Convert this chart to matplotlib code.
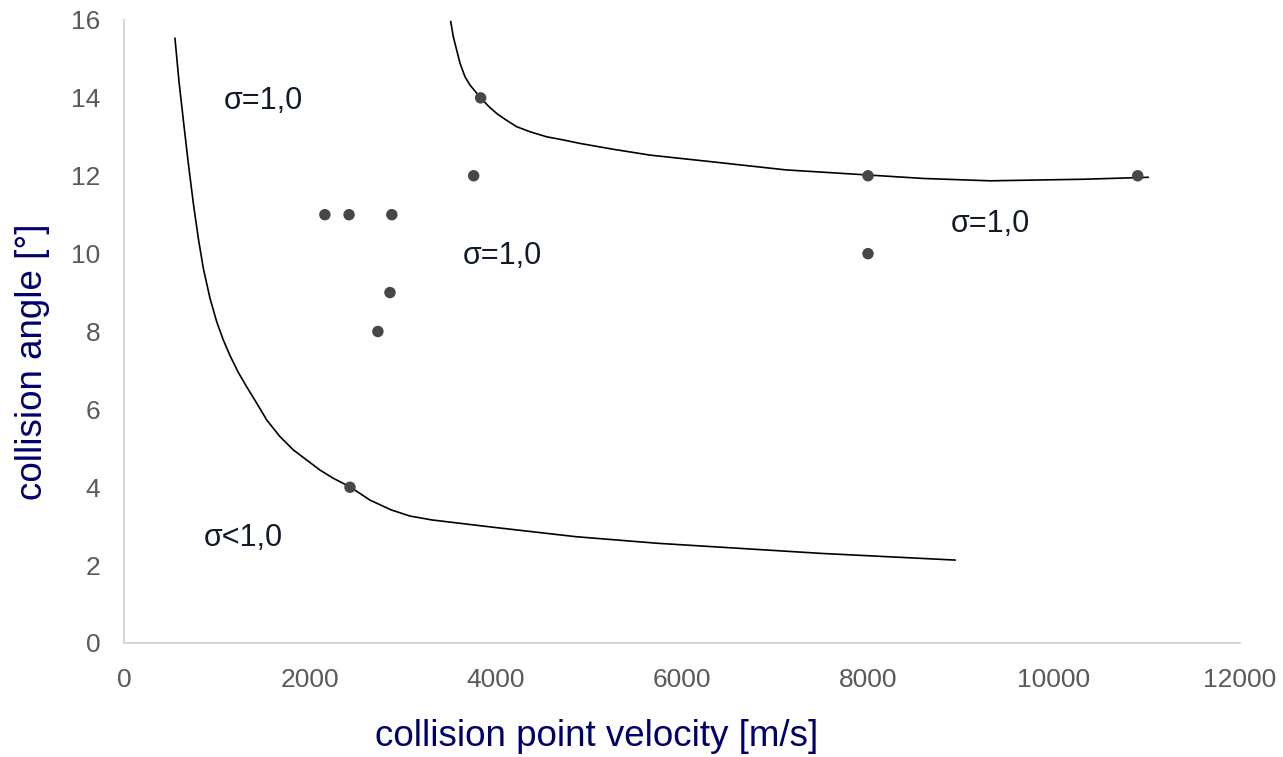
import matplotlib
matplotlib.use("Agg")
import matplotlib.pyplot as plt
import numpy as np

plt.rcParams["font.family"] = ["Liberation Sans", "DejaVu Sans"]

# measured points
vel_pts = [2160, 2420, 2880, 3760, 3835, 2860, 2730, 2430, 8000, 8000, 10900]
ang_pts = [11, 11, 11, 12, 14, 9, 8, 4, 12, 10, 12]

# lower boundary curve (sigma < 1,0 below)
vel_low = [548, 590, 638, 690, 745, 800, 853, 925, 997, 1068, 1140, 1229, 1319, 1427, 1534,
           1677, 1820, 1964, 2108, 2251, 2430, 2645, 2871, 3075, 3312, 3979,
           4860, 5742, 6624, 7506, 8936]
ang_low = [15.53, 14.45, 13.43, 12.35, 11.30, 10.38, 9.62, 8.85, 8.25, 7.78, 7.38, 6.95, 6.58, 6.16, 5.73,
           5.30, 4.96, 4.70, 4.44, 4.23, 4.01, 3.67, 3.42, 3.26, 3.16, 2.97,
           2.73, 2.56, 2.43, 2.30, 2.13]

# upper boundary curve
vel_up = [3513, 3541, 3577, 3613, 3667, 3720, 3835, 3918, 4007, 4097, 4222, 4366,
          4545, 4724, 4903, 5261, 5656, 6317, 7118, 7997, 8600, 9312, 10312, 11011]
ang_up = [15.96, 15.57, 15.23, 14.89, 14.54, 14.33, 14.00, 13.79, 13.60, 13.45, 13.26, 13.13,
          13.00, 12.92, 12.83, 12.68, 12.53, 12.36, 12.15, 12.02, 11.93, 11.87, 11.91, 11.96]

region_labels = ["σ=1,0", "σ=1,0", "σ=1,0", "σ<1,0"]
label_x = [1075, 3645, 8892, 860]
label_y = [13.92, 9.94, 10.76, 2.70]

xticks = [0, 2000, 4000, 6000, 8000, 10000, 12000]
yticks = [0, 2, 4, 6, 8, 10, 12, 14, 16]

fig = plt.figure(figsize=(12.83, 7.57), dpi=100)
ax = fig.add_axes([124 / 1283, 1 - 643 / 757, (1240 - 124) / 1283, (643 - 20) / 757])

ax.plot(vel_low, ang_low, color="black", lw=1.2, zorder=2)
ax.plot(vel_up, ang_up, color="black", lw=1.2, zorder=2)
ax.scatter(vel_pts, ang_pts, s=68, color="#474747", edgecolors="none", zorder=3)

for txt, lx, ly in zip(region_labels, label_x, label_y):
    ax.text(lx, ly, txt, fontsize=22, color="#121a2a", ha="left", va="center")

ax.set_xlim(0, 12000)
ax.set_ylim(0, 16)
ax.set_xticks(xticks)
ax.set_yticks(yticks)
ax.tick_params(length=0, labelsize=19, colors="#595959")
ax.tick_params(axis="x", pad=18)
ax.tick_params(axis="y", pad=17)
for side in ["top", "right"]:
    ax.spines[side].set_visible(False)
for side in ["left", "bottom"]:
    ax.spines[side].set_color("#d0d0d0")
    ax.spines[side].set_linewidth(1.2)

fig.text(597 / 1283, 1 - 737 / 757, "collision point velocity [m/s]",
         fontsize=26.5, color="#00006b", ha="center", va="center")
fig.text(33 / 1283, 1 - 362 / 757, "collision angle [°]", rotation=90,
         fontsize=26.5, color="#00006b", ha="center", va="center")

fig.savefig("out.png", dpi=100)
